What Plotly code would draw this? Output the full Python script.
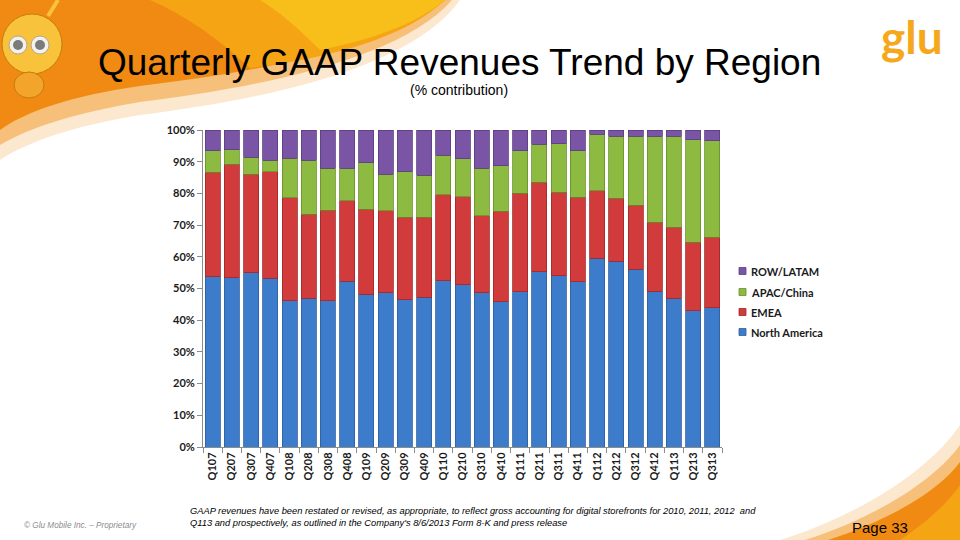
import plotly.graph_objects as go

quarters = ["Q107","Q207","Q307","Q407","Q108","Q208","Q308","Q408","Q109","Q209","Q309","Q409",
            "Q110","Q210","Q310","Q410","Q111","Q211","Q311","Q411","Q112","Q212","Q312","Q412",
            "Q113","Q213","Q313"]
north_america = [53.7,53.4,54.9,53.2,46.1,46.9,46.2,52.3,48.2,48.6,46.5,47.2,
                 52.5,51.2,48.6,45.9,48.9,55.3,54.0,52.2,59.6,58.6,56.1,49.2,47.0,43.0,44.0]
emea = [32.9,35.8,31.1,33.6,32.5,26.6,28.5,25.4,26.8,25.9,25.9,25.3,
        27.0,27.7,24.3,28.5,31.1,28.2,26.4,26.6,21.3,19.8,20.2,21.7,22.3,21.6,22.2]
apac_china = [6.8,4.5,5.4,3.6,12.5,17.0,13.2,10.2,14.7,11.5,14.4,13.2,
              12.6,12.0,15.1,14.4,13.4,12.0,15.2,14.6,17.8,19.7,21.7,27.2,28.7,32.3,30.4]
row_latam = [6.6,6.3,8.6,9.6,8.9,9.5,12.1,12.1,10.3,14.0,13.2,14.3,
             7.9,9.1,12.0,11.2,6.6,4.5,4.4,6.6,1.3,1.9,2.0,1.9,2.0,3.1,3.4]
y_ticks = [0,10,20,30,40,50,60,70,80,90,100]
y_tick_labels = ["0%","10%","20%","30%","40%","50%","60%","70%","80%","90%","100%"]

series = [("North America", north_america, "#3D7BCB", "#2E5F9E"),
          ("EMEA", emea, "#D23B3B", "#A02828"),
          ("APAC/China", apac_china, "#8DBA41", "#6A8E2C"),
          ("ROW/LATAM", row_latam, "#7A55A6", "#5A3D80")]

fig = go.Figure()
for name, vals, col, edge in series:
    fig.add_trace(go.Bar(x=quarters, y=vals, name=name, showlegend=False,
                         marker=dict(color=col, line=dict(color=edge, width=0.8))))

# plot area in pixels
L, R, T, B = 203, 722, 130, 447
W, H = 960, 540

def px(x, y):
    return (x - L) / (R - L), (B - y) / (B - T)

def path(points, close=True):
    s = ""
    for cmd, pts in points:
        coords = []
        for (x, y) in pts:
            a, b = px(x, y)
            coords.append(f"{a:.5f},{b:.5f}")
        s += cmd + " " + " ".join(coords) + " "
    if close:
        s += "Z"
    return s

def region(color, pts):
    return dict(type="path", xref="paper", yref="paper", layer="below", line=dict(width=0),
                fillcolor=color, path=path(pts))

shapes = []
# top-left swoosh (layers)
shapes.append(region("#FCE8CF", [("M", [(0, 0)]), ("L", [(460, 0)]),
                                  ("C", [(410, 70), (260, 100), (140, 115)]),
                                  ("C", [(80, 125), (30, 140), (0, 160)])]))
shapes.append(region("#F7C07A", [("M", [(0, 0)]), ("L", [(452, 0)]),
                                  ("C", [(400, 60), (255, 88), (140, 102)]),
                                  ("C", [(80, 112), (30, 127), (0, 145)])]))
shapes.append(region("#F08A12", [("M", [(0, 0)]), ("L", [(445, 0)]),
                                  ("C", [(390, 48), (255, 72), (140, 86)]),
                                  ("C", [(70, 96), (25, 112), (0, 130)])]))
shapes.append(region("#F5A514", [("M", [(150, 0)]), ("L", [(445, 0)]),
                                  ("C", [(405, 38), (330, 58), (250, 68)]),
                                  ("C", [(220, 40), (185, 15), (150, 0)])]))
shapes.append(region("#F8BE1A", [("M", [(260, 0)]), ("L", [(445, 0)]),
                                  ("C", [(415, 25), (370, 40), (320, 50)]),
                                  ("C", [(300, 30), (280, 12), (260, 0)])]))
# mascot
shapes.append(dict(type="circle", xref="paper", yref="paper", layer="above",
                   x0=px(2, 0)[0], x1=px(62, 0)[0], y0=px(0, 74)[1], y1=px(0, 14)[1],
                   fillcolor="#F8C23A", line=dict(color="#C77A10", width=1)))
for ex in (18, 40):
    shapes.append(dict(type="circle", xref="paper", yref="paper", layer="above",
                       x0=px(ex - 9, 0)[0], x1=px(ex + 9, 0)[0], y0=px(0, 54)[1], y1=px(0, 36)[1],
                       fillcolor="#F4F1EA", line=dict(color="#B0A79A", width=1)))
    shapes.append(dict(type="circle", xref="paper", yref="paper", layer="above",
                       x0=px(ex - 5, 0)[0], x1=px(ex + 5, 0)[0], y0=px(0, 50)[1], y1=px(0, 40)[1],
                       fillcolor="#7B7B7B", line=dict(width=0)))
shapes.append(dict(type="line", xref="paper", yref="paper", layer="above",
                   x0=px(48, 16)[0], y0=px(48, 16)[1], x1=px(58, 0)[0], y1=px(58, 0)[1],
                   line=dict(color="#F8C23A", width=4)))
shapes.append(dict(type="circle", xref="paper", yref="paper", layer="above",
                   x0=px(14, 0)[0], x1=px(44, 0)[0], y0=px(0, 98)[1], y1=px(0, 72)[1],
                   fillcolor="#F2A52A", line=dict(color="#C77A10", width=1)))
# bottom-right swoosh
shapes.append(region("#FCE8CF", [("M", [(780, 540)]),
                                  ("C", [(860, 515), (930, 470), (960, 425)]),
                                  ("L", [(960, 540)])]))
shapes.append(region("#F7C07A", [("M", [(805, 540)]),
                                  ("C", [(875, 518), (935, 480), (960, 445)]),
                                  ("L", [(960, 540)])]))
shapes.append(region("#F08A12", [("M", [(828, 540)]),
                                  ("C", [(890, 520), (940, 490), (960, 462)]),
                                  ("L", [(960, 540)])]))
shapes.append(region("#F5A514", [("M", [(900, 540)]),
                                  ("C", [(930, 520), (950, 500), (960, 485)]),
                                  ("L", [(960, 540)])]))

annotations = [
    dict(text="Quarterly GAAP Revenues Trend by Region", x=px(459, 0)[0], y=px(0, 62)[1],
         xref="paper", yref="paper", showarrow=False, xanchor="center", yanchor="middle",
         font=dict(family="Liberation Sans, Arial", size=37, color="#000000")),
    dict(text="(% contribution)", x=px(459, 0)[0], y=px(0, 90)[1],
         xref="paper", yref="paper", showarrow=False, xanchor="center", yanchor="middle",
         font=dict(family="Liberation Sans, Arial", size=14, color="#000000")),
    dict(text="<i>GAAP revenues have been restated or revised, as appropriate, to reflect gross accounting for digital storefronts for 2010, 2011, 2012  and<br>Q113 and prospectively, as outlined in the Company's 8/6/2013 Form 8-K and press release</i>",
         x=px(188, 0)[0], y=px(0, 517)[1], xref="paper", yref="paper", showarrow=False,
         xanchor="left", yanchor="middle", align="left",
         font=dict(family="Liberation Sans, Arial", size=9.3, color="#000000")),
    dict(text="<i>© Glu Mobile Inc. – Proprietary</i>", x=px(22, 0)[0], y=px(0, 525)[1],
         xref="paper", yref="paper", showarrow=False, xanchor="left", yanchor="middle",
         font=dict(family="Liberation Sans, Arial", size=8.2, color="#8C8C8C")),
    dict(text="Page 33", x=px(910, 0)[0], y=px(0, 527)[1],
         xref="paper", yref="paper", showarrow=False, xanchor="right", yanchor="middle",
         font=dict(family="Liberation Sans, Arial", size=15, color="#000000")),
    dict(text="<b>glu</b>", x=px(912, 0)[0], y=px(0, 36)[1],
         xref="paper", yref="paper", showarrow=False, xanchor="center", yanchor="middle",
         font=dict(family="Lato, Arial", size=46, color="#F5A81C")),
]

# legend (top = last series), small square markers like the original
legend_y = [332, 312, 292, 271]
for (name, _, col, edge), ly in zip(series, legend_y):
    shapes.append(dict(type="rect", xref="paper", yref="paper", layer="above",
                       x0=px(739, 0)[0], x1=px(746, 0)[0], y0=px(0, ly + 3.5)[1], y1=px(0, ly - 3.5)[1],
                       fillcolor=col, line=dict(color=edge, width=0.8)))
    annotations.append(dict(text=f"<b>{name}</b>", x=px(749, 0)[0], y=px(0, ly)[1],
                            xref="paper", yref="paper", showarrow=False,
                            xanchor="left", yanchor="middle",
                            font=dict(family="Lato", size=11, color="#1A1A1A")))

fig.update_layout(
    width=W, height=H, barmode="stack", barnorm="percent", bargap=0.22,
    margin=dict(l=L, r=W - R, t=T, b=H - B, autoexpand=False),
    paper_bgcolor="#FFFFFF", plot_bgcolor="#FFFFFF",
    font=dict(family="Lato, Open Sans, sans-serif", size=11, color="#1A1A1A"),
    showlegend=False,
    shapes=shapes, annotations=annotations,
)
fig.update_xaxes(type="category", showline=True, linecolor="#8C8C8C", linewidth=1,
                 ticks="outside", ticklen=5, tickcolor="#8C8C8C", tickson="boundaries",
                 tickangle=-90, showgrid=False,
                 tickfont=dict(family="Lato", size=11, weight="bold", color="#1A1A1A"))
fig.update_yaxes(range=[0, 100], tickmode="array", tickvals=y_ticks, ticktext=y_tick_labels,
                 showline=True, linecolor="#8C8C8C", linewidth=1, ticks="outside", ticklen=5,
                 tickcolor="#8C8C8C", showgrid=False, zeroline=False,
                 tickfont=dict(family="Lato", size=11, weight="bold", color="#1A1A1A"))

fig.write_html("out.html", config={"displayModeBar": False},
               post_script="document.body.style.margin='0';document.body.style.overflow='hidden';")
